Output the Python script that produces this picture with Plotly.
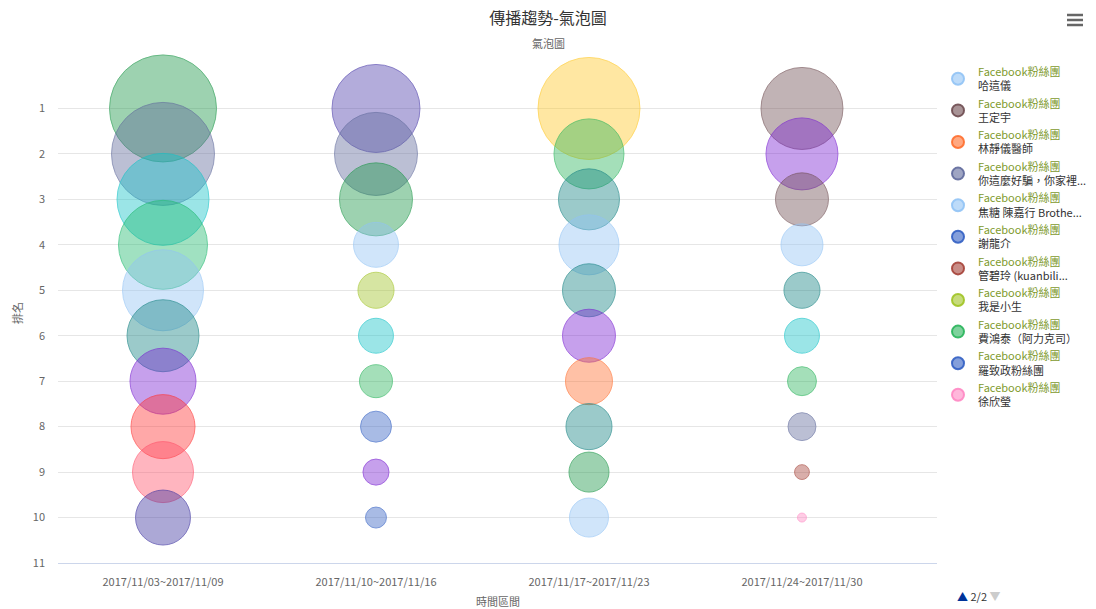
import plotly.graph_objects as go

# Weekly ranking periods (x categories)
periods = ["2017/11/03~2017/11/09", "2017/11/10~2017/11/16",
           "2017/11/17~2017/11/23", "2017/11/24~2017/11/30"]
ranks = [1, 2, 3, 4, 5, 6, 7, 8, 9, 10]

# Bubble volume per rank, one list per period
volume_w1 = [1145, 1061, 846, 792, 656, 518, 436, 410, 372, 302]
volume_w2 = [774, 689, 533, 202, 130, 122, 109, 96, 68, 44]
volume_w3 = [1040, 490, 372, 360, 281, 281, 221, 212, 160, 152]
volume_w4 = [672, 518, 281, 176, 130, 122, 84, 78, 22, 8]

# Colour (r, g, b) of each bubble, per period
GREEN = (25, 150, 70)
GRAYBLUE = (95, 105, 155)
CYAN = (20, 195, 200)
TURQ = (30, 185, 110)
LIGHTBLUE = (145, 195, 245)
TEAL = (20, 130, 130)
PURPLE = (120, 30, 210)
RED = (255, 50, 50)
PINKRED = (255, 80, 105)
INDIGO = (60, 50, 160)
LAVENDER = (75, 60, 170)
YELLOW = (255, 200, 35)
LIGHTGREEN = (40, 180, 90)
ORANGE = (255, 110, 45)
YELLOWGREEN = (160, 195, 35)
BLUE = (50, 95, 195)
BROWNGRAY = (110, 75, 80)
BROWNRED = (165, 65, 55)
PINK = (255, 135, 195)

colors_w1 = [GREEN, GRAYBLUE, CYAN, TURQ, LIGHTBLUE, TEAL, PURPLE, RED, PINKRED, INDIGO]
colors_w2 = [LAVENDER, GRAYBLUE, GREEN, LIGHTBLUE, YELLOWGREEN, CYAN, LIGHTGREEN, BLUE, PURPLE, BLUE]
colors_w3 = [YELLOW, LIGHTGREEN, TEAL, LIGHTBLUE, TEAL, PURPLE, ORANGE, TEAL, GREEN, LIGHTBLUE]
colors_w4 = [BROWNGRAY, PURPLE, BROWNGRAY, LIGHTBLUE, TEAL, CYAN, LIGHTGREEN, GRAYBLUE, BROWNRED, PINK]

# Legend page 2/2: fan pages and their series colours
legend_names = ["哈這儀", "王定宇", "林靜儀醫師", "你這麼好騙，你家裡...",
                "焦糖 陳嘉行 Brothe...", "謝龍介", "管碧玲 (kuanbili...",
                "我是小生", "費鴻泰（阿力克司）", "羅致政粉絲團", "徐欣瑩"]
legend_colors = [LIGHTBLUE, BROWNGRAY, ORANGE, GRAYBLUE, LIGHTBLUE, BLUE,
                 BROWNRED, YELLOWGREEN, LIGHTGREEN, BLUE, PINK]
legend_prefix = "Facebook粉絲團"

FONT = "Noto Sans CJK TC, Noto Sans, sans-serif"
FILL_ALPHA = 0.6
LINE_ALPHA = 0.9


def rgba(c, a):
    return "rgba(%d,%d,%d,%.2f)" % (c[0], c[1], c[2], a)


fig = go.Figure()

weeks = [(volume_w1, colors_w1), (volume_w2, colors_w2),
         (volume_w3, colors_w3), (volume_w4, colors_w4)]
for i, (vols, cols) in enumerate(weeks):
    fig.add_trace(go.Scatter(
        x=[i] * len(ranks), y=ranks, mode="markers",
        showlegend=False, cliponaxis=False,
        customdata=vols,
        hovertemplate=periods[i] + "<br>排名 %{y}<br>%{customdata}<extra></extra>",
        marker=dict(
            size=vols, sizemode="area", sizeref=0.2,
            color=[rgba(c, FILL_ALPHA) for c in cols],
            line=dict(color=[rgba(c, LINE_ALPHA) for c in cols], width=1),
        ),
    ))

# legend-only entries
for name, c in zip(legend_names, legend_colors):
    fig.add_trace(go.Scatter(
        x=[None], y=[None], mode="markers",
        name='<span style="color:#7e9a2d">%s</span><br>%s' % (legend_prefix, name),
        marker=dict(size=12, color=rgba(c, FILL_ALPHA), line=dict(color=rgba(c, LINE_ALPHA), width=1)),
    ))

W, H = 1096, 609
L, R, T, B = 58, 0, 63, 46
PLOT_RIGHT = 937
pw_paper, ph = W - L - R, H - T - B


def px(x):
    return (x - L) / pw_paper


def py(y):
    return (H - B - y) / ph


fig.update_layout(
    width=W, height=H,
    margin=dict(l=L, r=R, t=T, b=B, autoexpand=False),
    paper_bgcolor="white", plot_bgcolor="white",
    font=dict(family=FONT, color="#666666", size=11),
    title=dict(text="傳播趨勢-氣泡圖", x=0.5, xref="container", xanchor="center",
               y=1 - 18 / H, yref="container", yanchor="middle",
               font=dict(size=16, color="#333333", family=FONT)),
    xaxis=dict(
        domain=[0, px(PLOT_RIGHT)],
        range=[-0.493, 3.634], tickmode="array", tickvals=list(range(len(periods))),
        ticktext=periods, showgrid=False, zeroline=False,
        showline=True, linecolor="#ccd6eb", linewidth=1,
        ticks="", ticklabelstandoff=9,
        tickfont=dict(size=11, color="#666666"),
    ),
    yaxis=dict(
        range=[11, 0], tickmode="array", tickvals=list(range(0, 12)),
        ticktext=[""] + [str(v) for v in range(1, 12)],
        showgrid=True, gridcolor="#e6e6e6", gridwidth=1, zeroline=False,
        showline=False, ticks="", ticklabelstandoff=12,
        tickfont=dict(size=11, color="#666666"),
    ),
    legend=dict(x=px(938), y=py(58), xanchor="left", yanchor="top",
                maxheight=560,
                font=dict(size=11, color="#333333", family=FONT),
                bgcolor="rgba(0,0,0,0)", itemsizing="constant", tracegroupgap=0),
    hovermode="closest",
    annotations=[
        dict(text="氣泡圖", x=px(548), xref="paper", y=py(43), yref="paper",
             xanchor="center", yanchor="middle",
             showarrow=False, font=dict(size=11, color="#666666")),
        dict(text="排名", x=px(17), xref="paper", y=py(313), yref="paper", textangle=-90,
             xanchor="center", yanchor="middle",
             showarrow=False, font=dict(size=11, color="#666666")),
        dict(text="時間區間", x=px(498), xref="paper", y=py(601), yref="paper",
             xanchor="center", yanchor="middle",
             showarrow=False, font=dict(size=11, color="#666666")),
        dict(text='<span style="color:#003399">▲</span> 2/2 <span style="color:#cccccc">▼</span>',
             x=px(955), xref="paper", xanchor="left", y=py(596), yref="paper", yanchor="middle",
             showarrow=False, font=dict(size=11, color="#333333")),
    ],
    shapes=[
        dict(type="line", xref="paper", yref="paper", x0=px(1067), x1=px(1083),
             y0=py(yy), y1=py(yy), line=dict(color="#666666", width=2.5))
        for yy in (15, 20, 25)
    ],
)

fig.write_html("out.html")
